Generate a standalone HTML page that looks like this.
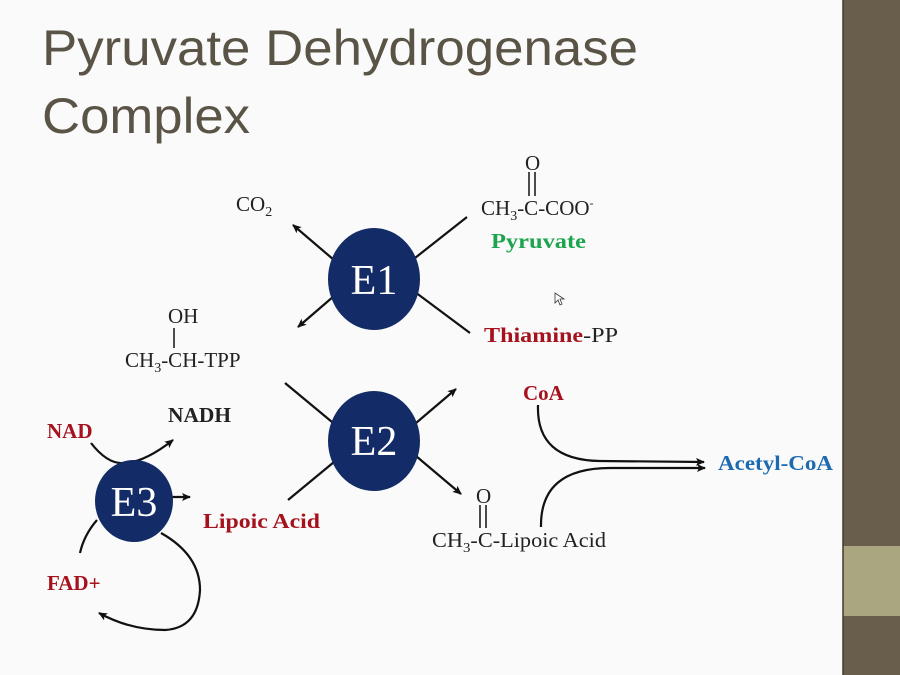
<!DOCTYPE html>
<html><head><meta charset="utf-8"><style>
html,body{margin:0;padding:0;background:#fafafa}
svg{display:block}
.s{font-family:"Liberation Serif",serif}
</style></head><body>
<svg width="900" height="675" viewBox="0 0 900 675" xmlns="http://www.w3.org/2000/svg">
<defs>
<marker id="a" markerWidth="10" markerHeight="10" refX="8" refY="5" orient="auto" markerUnits="userSpaceOnUse">
<path d="M0,1 L9,5 L0,9 L2,5 Z" fill="#111"/></marker>
</defs>
<rect width="900" height="675" fill="#fafafa"/>
<rect x="843" y="0" width="57" height="675" fill="#695e4b"/>
<rect x="843" y="546" width="57" height="70" fill="#aaa67f"/>
<line x1="843" y1="0" x2="843" y2="675" stroke="#3f3a2e" stroke-width="1.5"/>
<g font-family="Liberation Sans, sans-serif" fill="#5a5446" font-size="50">
<text x="42" y="65" textLength="596" lengthAdjust="spacingAndGlyphs">Pyruvate Dehydrogenase</text>
<text x="42" y="133" textLength="208" lengthAdjust="spacingAndGlyphs">Complex</text>
</g>
<g stroke="#111" stroke-width="2.2" fill="none">
<line x1="334" y1="260" x2="293" y2="225" marker-end="url(#a)"/>
<line x1="334" y1="296" x2="298" y2="327" marker-end="url(#a)"/>
<line x1="415" y1="258" x2="467" y2="217"/>
<line x1="415" y1="292" x2="470" y2="333"/>
<line x1="285" y1="383" x2="332" y2="422"/>
<line x1="288" y1="500" x2="334" y2="462"/>
<line x1="416" y1="423" x2="456" y2="389" marker-end="url(#a)"/>
<line x1="416" y1="456" x2="461" y2="494" marker-end="url(#a)"/>
<path d="M91,443 Q108,465 125,463 Q145,462 173,440" marker-end="url(#a)"/>
<line x1="172" y1="497" x2="190" y2="497" marker-end="url(#a)"/>
<path d="M97,520 Q84,535 80,553"/>
<path d="M161,533 Q200,555 200,590 Q198,628 165,630 Q130,630 99,613" marker-end="url(#a)"/>
<path d="M538,405 Q536,460 600,461 L704,462" marker-end="url(#a)"/>
<path d="M541,527 Q540,468 610,468 L705,468" marker-end="url(#a)"/>
<line x1="529" y1="172" x2="529" y2="196" stroke-width="1.5"/>
<line x1="535" y1="172" x2="535" y2="196" stroke-width="1.5"/>
<line x1="174" y1="328" x2="174" y2="348" stroke-width="1.5"/>
<line x1="480" y1="505" x2="480" y2="528" stroke-width="1.5"/>
<line x1="486" y1="505" x2="486" y2="528" stroke-width="1.5"/>
</g>
<g fill="#132b66">
<ellipse cx="374" cy="279" rx="46" ry="51"/>
<ellipse cx="374" cy="441" rx="46" ry="50"/>
<ellipse cx="134" cy="501" rx="39" ry="41"/>
</g>
<g class="s" fill="#fff" font-size="42" text-anchor="middle">
<text x="374" y="294">E1</text>
<text x="374" y="455">E2</text>
<text x="134" y="516">E3</text>
</g>
<g class="s" fill="#222" font-size="21">
<text x="236" y="211">CO<tspan font-size="14" dy="5">2</tspan></text>
<text x="525" y="170">O</text>
<text x="481" y="215">CH<tspan font-size="14" dy="5">3</tspan><tspan dy="-5">-C-COO</tspan><tspan font-size="12" dy="-8">-</tspan></text>
<text x="168" y="323">OH</text>
<text x="125" y="367">CH<tspan font-size="14" dy="5">3</tspan><tspan dy="-5">-CH-TPP</tspan></text>
<text x="476" y="503">O</text>
<text x="432" y="547" textLength="174" lengthAdjust="spacingAndGlyphs">CH<tspan font-size="14" dy="5">3</tspan><tspan dy="-5">-C-Lipoic Acid</tspan></text>
</g>
<g class="s" font-size="21" font-weight="bold">
<text x="491" y="248" fill="#1ea34f" textLength="95" lengthAdjust="spacingAndGlyphs">Pyruvate</text>
<text x="484" y="342" fill="#a5121e" textLength="134" lengthAdjust="spacingAndGlyphs">Thiamine<tspan fill="#222" font-weight="normal">-PP</tspan></text>
<text x="523" y="400" fill="#a5121e">CoA</text>
<text x="718" y="470" fill="#1c6bb0" textLength="115" lengthAdjust="spacingAndGlyphs">Acetyl-CoA</text>
<text x="168" y="422" fill="#222" textLength="63" lengthAdjust="spacingAndGlyphs">NADH</text>
<text x="47" y="438" fill="#a5121e">NAD</text>
<text x="203" y="528" fill="#a5121e" textLength="117" lengthAdjust="spacingAndGlyphs">Lipoic Acid</text>
<text x="47" y="590" fill="#a5121e">FAD+</text>
</g>
<path d="M555,293 l0,10 l3,-3 l2,5 l2,-1 l-2,-5 l4,0 Z" fill="#fff" stroke="#333" stroke-width="0.8"/>
</svg>
</body></html>
